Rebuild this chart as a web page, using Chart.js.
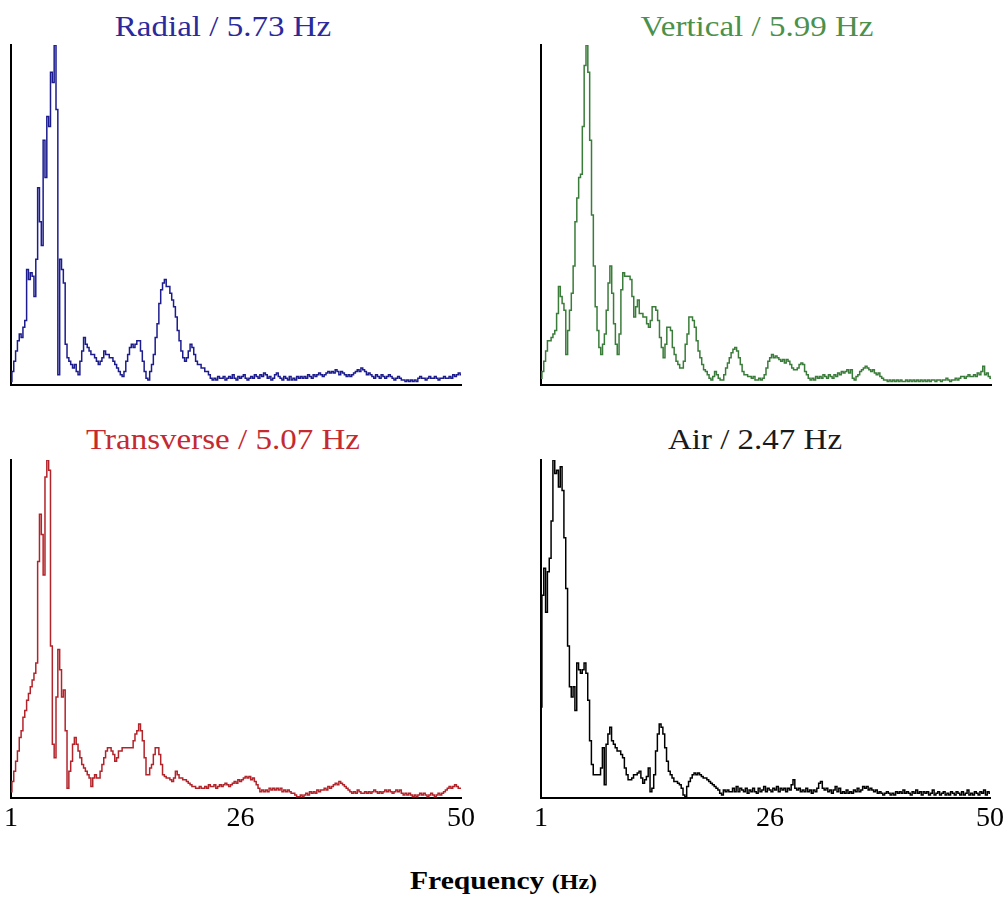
<!DOCTYPE html>
<html>
<head>
<meta charset="utf-8">
<title>Spectra</title>
<script src="https://cdn.jsdelivr.net/npm/chart.js@4.4.1/dist/chart.umd.min.js"></script>
<style>
  html, body { margin: 0; padding: 0; background: #fff; overflow: hidden; }
  body { width: 1007px; height: 905px; position: relative; }
  canvas { position: absolute; }
  .ptitle {
    position: absolute; width: 400px; text-align: center;
    font-family: "Liberation Serif", "Times New Roman", serif;
    font-size: 30px; line-height: 36px; white-space: nowrap;
    transform: scaleX(1.1); transform-origin: center;
  }
  #xTitle {
    position: absolute; left: 0; width: 1007px; top: 866px; text-align: center;
    font-family: "Liberation Serif", "Times New Roman", serif;
    font-weight: bold; font-size: 26px; line-height: 30px; color: #000;
    transform: scaleX(1.14); transform-origin: center;
  }
  #xTitle span { font-size: 21px; }
</style>
</head>
<body>

<div class="ptitle" style="left:23px;top:8px;color:#2a2a9c">Radial / 5.73 Hz</div>
<div class="ptitle" style="left:557px;top:8px;color:#4b904b">Vertical / 5.99 Hz</div>
<div class="ptitle" style="left:23px;top:421px;color:#c42a30">Transverse / 5.07 Hz</div>
<div class="ptitle" style="left:555px;top:421px;color:#1a1a1a">Air / 2.47 Hz</div>

<canvas id="radial" width="480" height="355" style="left:0;top:40px"></canvas>
<canvas id="vertical" width="477" height="355" style="left:530px;top:40px"></canvas>
<canvas id="transverse" width="480" height="390" style="left:0;top:455px"></canvas>
<canvas id="air" width="477" height="390" style="left:530px;top:455px"></canvas>

<div id="xTitle">Frequency <span>(Hz)</span></div>

<script>
// spectra sampled every 0.2 Hz from 1 to 50 Hz, amplitude normalised to the peak (=100)
const FREQ_START = 1;
const FREQ_STEP = 0.2;
const xTicks = [1, 26, 50];

const radial = [
  1, 4, 7, 10, 13,
  15, 14, 17, 19, 34,
  31, 33, 32, 26, 37,
  58, 48, 41, 72, 61,
  79, 76, 92, 89, 100,
  81, 3, 37, 34, 30,
  12, 8, 7, 6, 5,
  6, 4, 3, 7, 10,
  14, 12, 11, 10, 9,
  9, 8, 7, 6, 7,
  8, 10, 9, 9, 8,
  8, 7, 6, 5, 4,
  3, 2.5, 4, 7, 9,
  11, 12, 11, 12, 13,
  13, 10, 7, 4, 2,
  1.5, 4, 6, 9, 14,
  18, 24, 28, 30, 31,
  29, 29, 27, 25, 23,
  20, 16, 13, 10, 8,
  7, 8, 10, 12, 11,
  9, 7, 6, 6, 5,
  5, 4, 4, 3, 2,
  1.5, 2, 1.5, 2.5, 2,
  2, 2.5, 1.5, 2, 2.5,
  2, 3, 2, 1.5, 2.5,
  2, 2.5, 3, 2, 1.5,
  2, 2.5, 2, 3, 2.5,
  2, 3, 2.5, 3.5, 3,
  2, 2.5, 1.5, 2, 3,
  3.5, 2.5, 2, 1.5, 2.5,
  2, 1.5, 2.5, 1.5, 2,
  1.5, 2.5, 2, 2.5, 2,
  2.5, 2, 3, 2.5, 2,
  3, 2.5, 3, 3.5, 3,
  2.5, 3, 3.5, 4, 3.5,
  4, 3.5, 4.5, 4, 3,
  4, 3.5, 3, 2.5, 3,
  2.5, 3, 3.5, 4, 4.5,
  4, 5, 4.5, 4, 3,
  3.5, 3, 2.5, 2, 3,
  2.5, 2, 3, 2.5, 2,
  2.5, 3, 2.5, 2, 1.5,
  2, 2.5, 2, 1.5, 1.5,
  1, 1.5, 1, 1.5, 1,
  1.5, 1, 2, 2.5, 2,
  2, 1.5, 2, 2.5, 2,
  2, 2.5, 2, 1.5, 2,
  2, 2.5, 2, 2, 2.5,
  2, 3, 2.5, 3, 3.5,
  3
];

const vertical = [
  2, 4, 7, 10, 13,
  13, 14, 15, 16, 21,
  29, 26, 24, 22, 9,
  16, 22, 27, 35, 48,
  55, 61, 62, 76, 94,
  100, 92, 72, 50, 35,
  23, 16, 11, 9, 12,
  15, 22, 30, 35, 27,
  18, 12, 9, 15, 28,
  33, 32, 32, 32, 31,
  26, 20, 23, 25, 21,
  21, 20, 20, 18, 17,
  19, 23, 23, 22, 19,
  14, 11, 8, 12, 17,
  17, 16, 11, 9, 7,
  6, 5, 5, 7, 12,
  15, 20, 20, 19, 17,
  13, 10, 8, 6, 4.5,
  4, 3, 2, 1.5, 2.5,
  4, 3, 2, 1.5, 1.5,
  3, 5, 6.5, 8, 9.5,
  10.5, 11, 10, 8, 6,
  4, 3, 3, 2.5, 2.5,
  2, 2.5, 1.5, 1.5, 2,
  1.5, 2, 3, 5, 7,
  8, 9, 8, 8.5, 8,
  7.5, 7, 7.5, 6.5, 7.5,
  7, 6, 5, 4.5, 4.5,
  5, 6, 6.5, 6, 4,
  3, 2, 1.5, 2, 1.5,
  2.5, 2, 2.5, 2, 3,
  2.5, 2, 3, 2.5, 2,
  3, 2.5, 3.5, 3, 4,
  3.5, 4, 4.5, 3.5, 4.5,
  2, 1.5, 2.5, 3, 4,
  4.5, 5, 5.5, 5, 4.5,
  4, 4.5, 3.5, 3, 3.5,
  2.5, 2, 1.5, 1.5, 1,
  1.5, 1, 1.5, 1, 1.5,
  1, 1.5, 1, 1, 1.5,
  1, 1.5, 1, 1.5, 1,
  1.5, 1, 1.5, 1, 1.5,
  1, 1.5, 1, 1.5, 1.5,
  1, 1.5, 1.5, 1, 1.5,
  1.5, 2, 1.5, 1, 1.5,
  1.5, 2, 1.5, 2, 2.5,
  2.5, 2, 2.5, 3, 2.5,
  2.5, 3, 2.5, 3.5, 3,
  4, 5.5, 3, 3.5, 2.5,
  2
];

const transverse = [
  2, 5, 8, 11, 14,
  18, 20, 24, 26, 29,
  31, 33, 35, 37, 40,
  70, 84, 78, 66, 95,
  100, 97, 45, 16, 12,
  30, 44, 38, 30, 32,
  20, 3, 8, 11, 16,
  18, 16, 14, 12, 10,
  9, 8, 7, 6, 3.5,
  6, 7, 6, 6, 8,
  10, 12, 14, 15, 15,
  14, 13, 11, 12, 14,
  14, 15, 15, 15, 15,
  15, 15, 17, 19, 20,
  22, 20, 17, 12, 7,
  7, 9, 10, 13, 15,
  15, 13, 10, 7, 6.5,
  6, 6, 5.5, 5, 6,
  8, 7, 6, 6, 5.5,
  5.5, 5, 4.5, 4, 3.5,
  3.5, 3, 3, 3.5, 3,
  3, 3.5, 3, 4, 3.5,
  3.5, 4, 3, 3.5, 4,
  3.5, 4, 4.5, 4, 3.5,
  4, 4.5, 5, 4.5, 5.5,
  5, 5.5, 6, 6.5, 6,
  6.5, 5.5, 6, 5, 4,
  3, 2, 2.5, 2, 2.5,
  2, 3, 2.5, 3, 2.5,
  3, 2.5, 3, 2, 2.5,
  2, 2.5, 2, 1.5, 1.5,
  1, 0.5, 0.5, 1, 0.5,
  1, 1.5, 1, 2, 1.5,
  2, 1.5, 2.5, 2, 2.5,
  2.5, 3, 2.5, 3.5, 3,
  3.5, 4, 4.5, 4, 5,
  4.5, 4, 3.5, 3, 2.5,
  2, 1.5, 2, 1.5, 2.5,
  2, 1.5, 1.5, 2, 1.5,
  2, 1.5, 2, 2.5, 2,
  1.5, 2, 1.5, 2, 2.5,
  2, 2.5, 2, 1.5, 2,
  2.5, 2, 2.5, 1.5, 1,
  1.5, 1, 1.5, 1, 0.5,
  1, 0.5, 1, 1.5, 1,
  1.5, 1, 0.5, 1, 1.5,
  1, 0.5, 1, 1.5, 1,
  1.5, 2, 2.5, 3, 3.5,
  3, 3.5, 4, 3.5, 3,
  3
];

const air = [
  27, 60, 68, 55, 67,
  71, 82, 100, 96, 97,
  92, 98, 91, 77, 62,
  45, 33, 30, 33, 26,
  40, 38, 37, 38, 40,
  37, 29, 17, 10, 7,
  7, 7, 7, 9, 15,
  4, 16, 19, 21, 17,
  16, 15, 14, 14, 13,
  12, 9, 7, 5.5, 5.5,
  6, 7, 7, 7.5, 8,
  6, 4.5, 5.5, 6.5, 9,
  2, 3, 7, 14, 19,
  22, 21, 19, 15, 11,
  8, 7, 6, 5, 5,
  4.5, 4, 3, 1, 0.5,
  3.5, 5, 6, 7, 7.5,
  7, 7.5, 7, 6.5, 6,
  6, 5.5, 5, 4.5, 4,
  3.5, 3, 2.5, 1.5, 1,
  2.5, 2, 2.5, 2, 2,
  3, 2, 3.5, 2, 3,
  2.5, 2, 3, 1.5, 2.5,
  2, 3, 2, 1.5, 3,
  2, 2.5, 3.5, 2, 3,
  2.5, 2, 3, 2.5, 3.5,
  2, 3, 2.5, 3, 2,
  3, 2.5, 4, 5.5, 3,
  2.5, 3, 2, 2.5, 2,
  3, 2, 2.5, 1.5, 2.5,
  2, 3, 4.5, 5, 3,
  2.5, 3, 2, 2.5, 1.5,
  2.5, 3.5, 2, 3, 1.5,
  2, 1.5, 2.5, 1.5, 2,
  1.5, 2.5, 2, 3, 2,
  2.5, 3.5, 3, 3.5, 2.5,
  3, 2.5, 2, 2.5, 1.5,
  2, 1.5, 1, 1.5, 2,
  1.5, 1, 1.5, 1, 2,
  1.5, 2, 1.5, 2.5, 1.5,
  2, 1.5, 1, 2, 1.5,
  2.5, 1.5, 2, 1, 2,
  1.5, 2, 1, 1.5, 2.5,
  1, 1.5, 2, 1, 1.5,
  2, 1, 1.5, 1, 2,
  1.5, 1, 2, 1.5, 1,
  2, 1, 1.5, 2.5, 1,
  1.5, 1, 2, 1.5, 1,
  2, 1.5, 2.5, 1, 2,
  1.5
];

const serif = '"Liberation Serif", "Times New Roman", serif';

function toPoints(values) {
  return values.map((v, i) => ({ x: +(FREQ_START + i * FREQ_STEP).toFixed(1), y: v }));
}

function spectrum(id, values, color, showTicks) {
  const bottomPad = showTicks ? 7 : 10;
  new Chart(document.getElementById(id), {
    type: 'line',
    data: {
      datasets: [{
        data: toPoints(values),
        borderColor: color,
        borderWidth: 1.5,
        pointRadius: 0,
        stepped: 'middle',
        fill: false
      }]
    },
    options: {
      responsive: false,
      animation: false,
      layout: { padding: { top: 5, bottom: bottomPad, left: 11, right: id === 'radial' || id === 'transverse' ? 19 : 16 } },
      plugins: { legend: { display: false }, tooltip: { enabled: false } },
      scales: {
        x: {
          type: 'linear',
          min: 1,
          max: 50,
          afterBuildTicks: axis => { axis.ticks = xTicks.map(v => ({ value: v })); },
          grid: { display: false, drawTicks: false },
          border: { display: true, color: '#000', width: 2 },
          ticks: {
            display: showTicks,
            autoSkip: false,
            maxRotation: 0,
            padding: 3,
            color: '#000',
            font: { family: serif, size: 28 }
          }
        },
        y: {
          min: 0,
          max: 100,
          grid: { display: false, drawTicks: false },
          border: { display: true, color: '#000', width: 2 },
          ticks: { display: false }
        }
      }
    }
  });
}

spectrum('radial', radial, '#1c1c8e', false);
spectrum('vertical', vertical, '#3a7c3a', false);
spectrum('transverse', transverse, '#b3232a', true);
spectrum('air', air, '#000000', true);
</script>
</body>
</html>
